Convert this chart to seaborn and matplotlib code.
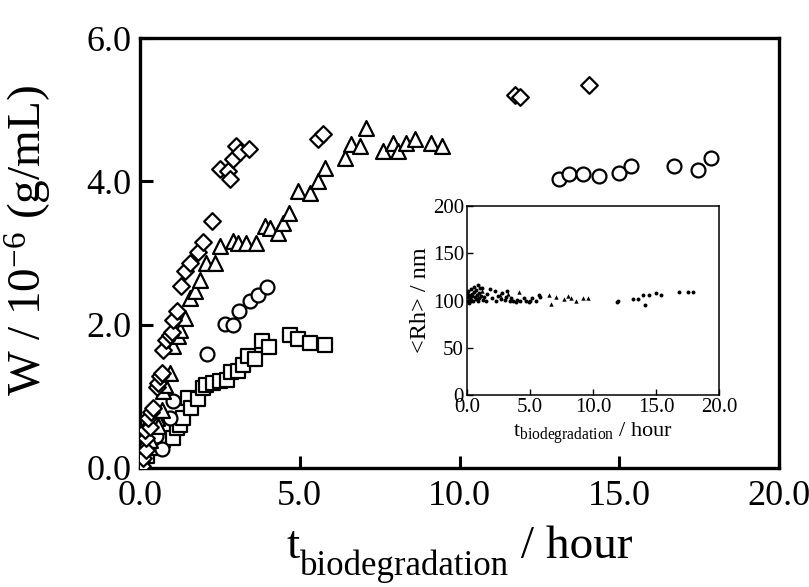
import matplotlib
matplotlib.use("Agg")
import matplotlib.pyplot as plt
import seaborn as sns
from matplotlib.ticker import FormatStrFormatter

# ---------------- data ----------------
diamond_t = [0.05, 0.1, 0.19, 0.2, 0.16, 0.31, 0.26, 0.36, 0.4, 0.52, 0.57, 0.63, 0.68,
             0.73, 0.83, 0.94, 0.99, 1.04, 1.15, 1.30, 1.40, 1.56, 1.81, 1.96, 2.24,
             2.50, 2.76, 2.81, 2.92, 3.02, 3.12, 3.42, 5.57, 5.73, 11.75, 11.9, 14.06]
diamond_w = [0.02, 0.14, 0.25, 0.42, 0.53, 0.57, 0.70, 0.78, 0.84, 1.13, 1.19, 1.28, 1.33,
             1.64, 1.78, 1.85, 1.89, 2.07, 2.19, 2.54, 2.75, 2.86, 3.02, 3.16, 3.44,
             4.17, 4.14, 4.03, 4.31, 4.49, 4.41, 4.45, 4.59, 4.66, 5.20, 5.18, 5.34]

tri_t = [0.10, 0.31, 0.52, 0.57, 0.68, 0.73, 0.78, 0.94, 1.04, 1.20, 1.25, 1.40, 1.56,
         1.72, 1.87, 2.08, 2.34, 2.50, 2.92, 3.07, 3.33, 3.62, 3.90, 4.06, 4.32, 4.48,
         4.67, 4.95, 5.31, 5.57, 5.78, 6.41, 6.61, 6.88, 7.08, 7.60, 7.92, 8.07, 8.33,
         8.60, 9.11, 9.45]
tri_w = [0.30, 0.39, 0.69, 0.58, 0.81, 1.07, 1.16, 1.32, 1.70, 1.84, 1.93, 2.09, 2.37,
         2.47, 2.62, 2.86, 2.86, 3.10, 3.17, 3.14, 3.14, 3.14, 3.37, 3.35, 3.28, 3.42,
         3.56, 3.87, 3.84, 4.00, 4.19, 4.33, 4.52, 4.49, 4.75, 4.42, 4.54, 4.42, 4.54,
         4.59, 4.54, 4.49]

circ_t = [0.05, 0.30, 0.50, 0.68, 0.94, 1.04, 2.10, 2.66, 2.92, 3.10, 3.44, 3.70, 3.99,
          13.10, 13.44, 13.85, 14.38, 15.00, 15.37, 16.72, 17.47, 17.86]
circ_w = [0.10, 0.35, 0.45, 0.27, 0.69, 0.93, 1.59, 2.01, 2.00, 2.19, 2.33, 2.42, 2.53,
          4.03, 4.10, 4.10, 4.08, 4.12, 4.21, 4.21, 4.16, 4.32]

sq_t = [0.21, 0.42, 0.73, 1.04, 1.15, 1.25, 1.35, 1.51, 1.61, 1.82, 1.98, 2.08, 2.29,
        2.50, 2.71, 2.86, 3.07, 3.23, 3.39, 3.60, 3.83, 4.04, 4.71, 4.95, 5.31, 5.80]
sq_w = [0.16, 0.28, 0.39, 0.41, 0.55, 0.60, 0.69, 0.98, 0.83, 0.96, 1.11, 1.15, 1.18,
        1.21, 1.23, 1.34, 1.35, 1.44, 1.56, 1.52, 1.77, 1.69, 1.85, 1.80, 1.74, 1.72]

# inset: hydrodynamic radius
rh_dot_t = [0.05, 0.08, 0.1, 0.12, 0.15, 0.2, 0.22, 0.25, 0.3, 0.33, 0.35, 0.4, 0.45, 0.5,
            0.55, 0.6, 0.65, 0.7, 0.75, 0.8, 0.85, 0.9, 0.95, 1.0, 1.05, 1.1, 1.2, 1.3,
            1.4, 1.5, 1.6, 1.8, 2.0, 2.2, 2.3, 2.5, 2.7, 2.8, 3.0, 3.1, 3.2, 3.4, 3.5,
            3.7, 3.9, 4.0, 4.2, 4.5, 4.7, 4.9, 5.0, 5.2, 5.5, 5.7, 5.8,
            11.9, 11.97, 13.2, 13.56, 13.96, 14.1, 14.44, 15.02, 15.42, 16.82, 17.54, 17.93]
rh_dot_v = [108, 100, 104, 110, 97, 106, 102, 103, 112, 99, 101, 107, 105, 99, 109, 114,
            104, 111, 102, 106, 116, 100, 108, 103, 113, 105, 113, 101, 104, 99, 107,
            112, 103, 110, 100, 105, 102, 108, 101, 104, 110, 99, 103, 100, 98, 101,
            99, 103, 100, 98, 99, 103, 100, 106, 104,
            98, 99, 102, 102, 105.5, 95, 105.5, 108, 105.5, 109, 109, 109]
rh_tri_t = [1.2, 2.6, 3.3, 4.1, 6.49, 6.68, 7.07, 7.73, 8.0, 8.26, 8.66, 9.19, 9.59]
rh_tri_v = [110, 106, 107, 109, 105.5, 96, 103.7, 102, 104.4, 103, 99.5, 103, 103]

# axis texts
x_main, x_sub, x_tail = "t", "biodegradation", " / hour"
y_label = r"W / 10$^{\mathregular{-6}}$ (g/mL)"
inset_xlabel = r"t$_{\mathregular{biodegradation}}$ / hour"
inset_ylabel = "<Rh> / nm"

# ---------------- style ----------------
sns.set_theme(style="white")
plt.rcParams["font.family"] = ["Liberation Serif", "DejaVu Serif"]
plt.rcParams["mathtext.fontset"] = "custom"
plt.rcParams["mathtext.rm"] = "Liberation Serif"
plt.rcParams["mathtext.it"] = "Liberation Serif:italic"

W_PX, H_PX = 809, 587
fig = plt.figure(figsize=(W_PX / 100, H_PX / 100), dpi=100)
fig.patch.set_facecolor("white")
ax = fig.add_axes([0.173, 0.203, 0.790, 0.732])

common = dict(facecolor="white", edgecolor="black", linewidth=1.6, zorder=3, ax=ax, legend=False)
sns.scatterplot(x=sq_t, y=sq_w, marker="s", s=88, **common)
sns.scatterplot(x=circ_t, y=circ_w, marker="o", s=100, **common)
sns.scatterplot(x=tri_t, y=tri_w, marker="^", s=115, **common)
sns.scatterplot(x=diamond_t, y=diamond_w, marker="D", s=72, **common)

ax.set_xlim(0, 20)
ax.set_ylim(0, 6)
ax.set_xticks([0, 5, 10, 15, 20])
ax.set_yticks([0, 2, 4, 6])
ax.xaxis.set_major_formatter(FormatStrFormatter("%.1f"))
ax.yaxis.set_major_formatter(FormatStrFormatter("%.1f"))
ax.tick_params(direction="in", length=9, width=2.2, labelsize=26, colors="black",
               bottom=True, left=True)
ax.tick_params(axis="x", pad=9)
ax.tick_params(axis="y", pad=6)
for sp in ax.spines.values():
    sp.set_linewidth(2.4)
    sp.set_color("black")
ax.set_ylabel(y_label, fontsize=34, color="black")
ax.yaxis.set_label_coords(-0.135, 0.53)

# ---------------- inset ----------------
ins = fig.add_axes([0.577, 0.327, 0.312, 0.322])
sns.scatterplot(x=rh_dot_t, y=rh_dot_v, marker="o", s=8, color="black", edgecolor="black",
                linewidth=0, ax=ins, legend=False)
sns.scatterplot(x=rh_tri_t, y=rh_tri_v, marker="^", s=10, color="black", edgecolor="black",
                linewidth=0, ax=ins, legend=False)
ins.set_xlim(0, 20)
ins.set_ylim(0, 200)
ins.set_xticks([0, 5, 10, 15, 20])
ins.set_yticks([0, 50, 100, 150, 200])
ins.xaxis.set_major_formatter(FormatStrFormatter("%.1f"))
ins.tick_params(direction="in", length=4, width=1, labelsize=15, colors="black",
                bottom=True, left=True, pad=2)
for sp in ins.spines.values():
    sp.set_linewidth(1.1)
    sp.set_color("black")
ins.set_xlabel(inset_xlabel, fontsize=16, labelpad=3, color="black")
ins.set_ylabel(inset_ylabel, fontsize=17.5, labelpad=1, color="black")

# ---------------- main x label built from pieces (larger, lower subscript) ----------------
fig.canvas.draw()
rend = fig.canvas.get_renderer()
main_fs, sub_fs = 34, 25
base_y = H_PX - 558          # baseline, pixels from bottom
drop = 17                    # subscript drop in pixels

def width_of(s, fs):
    t = fig.text(0, 0, s, fontsize=fs)
    w = t.get_window_extent(renderer=rend).width
    t.remove()
    return w

w1 = width_of(x_main, main_fs)
w2 = width_of(x_sub, sub_fs)
w3 = width_of(x_tail.replace(" ", "\u00a0", 1), main_fs)
axbb = ax.get_window_extent(renderer=rend)
x0 = (axbb.x0 + axbb.x1) / 2 - (w1 + w2 + w3) / 2
fig.text(x0 / W_PX, base_y / H_PX, x_main, fontsize=main_fs, va="baseline", ha="left", color="black")
fig.text((x0 + w1) / W_PX, (base_y - drop) / H_PX, x_sub, fontsize=sub_fs, va="baseline",
         ha="left", color="black")
fig.text((x0 + w1 + w2) / W_PX, base_y / H_PX, x_tail.replace(" ", "\u00a0", 1), fontsize=main_fs,
         va="baseline", ha="left", color="black")

fig.savefig("out.png", dpi=100, facecolor="white")
